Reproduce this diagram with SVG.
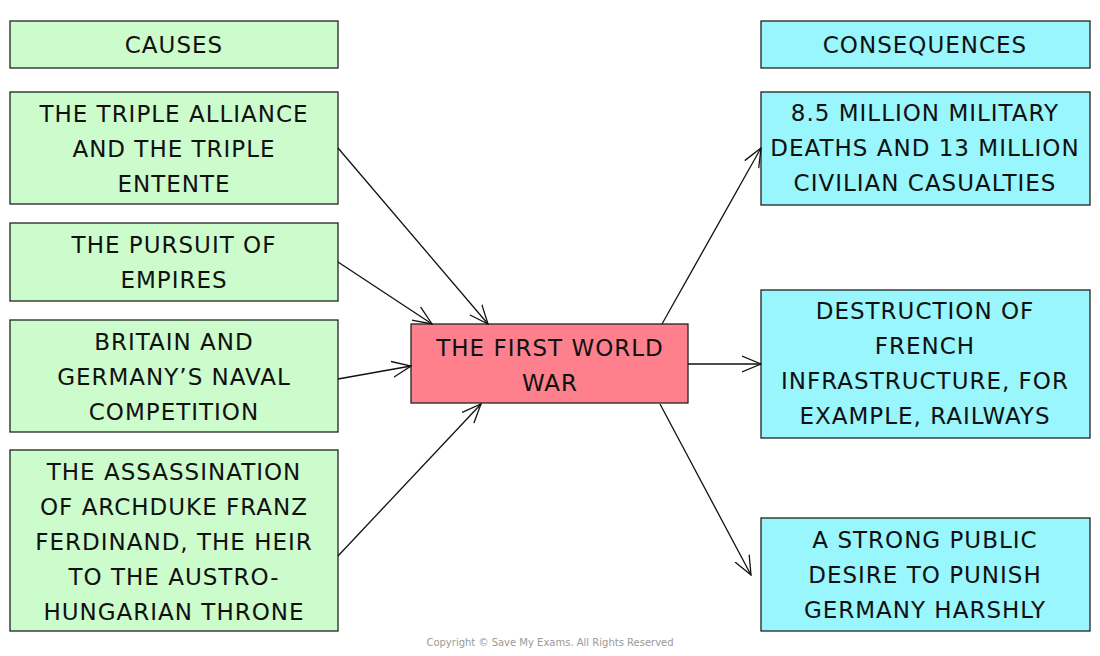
<svg xmlns="http://www.w3.org/2000/svg" width="1100" height="656" viewBox="0 0 1100 656">
<defs>
<style>
.c{fill:#ccfccc;stroke:#222;stroke-width:1.3}
.q{fill:#98f6fc;stroke:#222;stroke-width:1.3}
.m{fill:#fe808d;stroke:#222;stroke-width:1.3}
text{font-family:"DejaVu Sans","Liberation Sans",sans-serif;font-size:23px;fill:#111;text-anchor:middle;letter-spacing:1px}
.l{stroke:#111;stroke-width:1.3;fill:none;marker-end:url(#a)}
</style>
<marker id="a" viewBox="0 0 20 20" refX="19" refY="10" markerWidth="20" markerHeight="20" markerUnits="userSpaceOnUse" orient="auto"><path d="M0,2 L19,10 L0,18" fill="none" stroke="#111" stroke-width="1.3"/></marker>
</defs>
<rect width="1100" height="656" fill="#fff"/>
<g id="causes"><rect class="c" x="10" y="21" width="328" height="47"/><text x="174" y="53">CAUSES</text></g>
<g id="c1"><rect class="c" x="10" y="92" width="328" height="112"/><text x="174" y="122">THE TRIPLE ALLIANCE</text><text x="174" y="157">AND THE TRIPLE</text><text x="174" y="192">ENTENTE</text></g>
<g id="c2"><rect class="c" x="10" y="223" width="328" height="78"/><text x="174" y="253">THE PURSUIT OF</text><text x="174" y="288">EMPIRES</text></g>
<g id="c3"><rect class="c" x="10" y="320" width="328" height="112"/><text x="174" y="350">BRITAIN AND</text><text x="174" y="385">GERMANY’S NAVAL</text><text x="174" y="420">COMPETITION</text></g>
<g id="c4"><rect class="c" x="10" y="450" width="328" height="181"/><text x="174" y="480">THE ASSASSINATION</text><text x="174" y="515">OF ARCHDUKE FRANZ</text><text x="174" y="550">FERDINAND, THE HEIR</text><text x="174" y="585">TO THE AUSTRO-</text><text x="174" y="620">HUNGARIAN THRONE</text></g>
<g id="war"><rect class="m" x="411" y="324" width="277" height="79"/><text x="550" y="356">THE FIRST WORLD</text><text x="550" y="391">WAR</text></g>
<g id="cons"><rect class="q" x="761" y="21" width="329" height="47"/><text x="925" y="53">CONSEQUENCES</text></g>
<g id="q1"><rect class="q" x="761" y="92" width="329" height="113"/><text x="925" y="121">8.5 MILLION MILITARY</text><text x="925" y="156">DEATHS AND 13 MILLION</text><text x="925" y="191">CIVILIAN CASUALTIES</text></g>
<g id="q2"><rect class="q" x="761" y="290" width="329" height="148"/><text x="925" y="319">DESTRUCTION OF</text><text x="925" y="354">FRENCH</text><text x="925" y="389">INFRASTRUCTURE, FOR</text><text x="925" y="424">EXAMPLE, RAILWAYS</text></g>
<g id="q3"><rect class="q" x="761" y="518" width="329" height="113"/><text x="925" y="548">A STRONG PUBLIC</text><text x="925" y="583">DESIRE TO PUNISH</text><text x="925" y="618">GERMANY HARSHLY</text></g>
<g id="connectors">
<path class="l" d="M338,148 L488,324"/>
<path class="l" d="M338,262 L432,324"/>
<path class="l" d="M338,379 L411,366"/>
<path class="l" d="M338,556 L481,404"/>
<path class="l" d="M662,324 L761,148"/>
<path class="l" d="M688,364 L761,364"/>
<path class="l" d="M660,404 L751,575"/>
</g>
<text x="550" y="646" style="font-size:10px;fill:#999;letter-spacing:0">Copyright © Save My Exams. All Rights Reserved</text>
</svg>
